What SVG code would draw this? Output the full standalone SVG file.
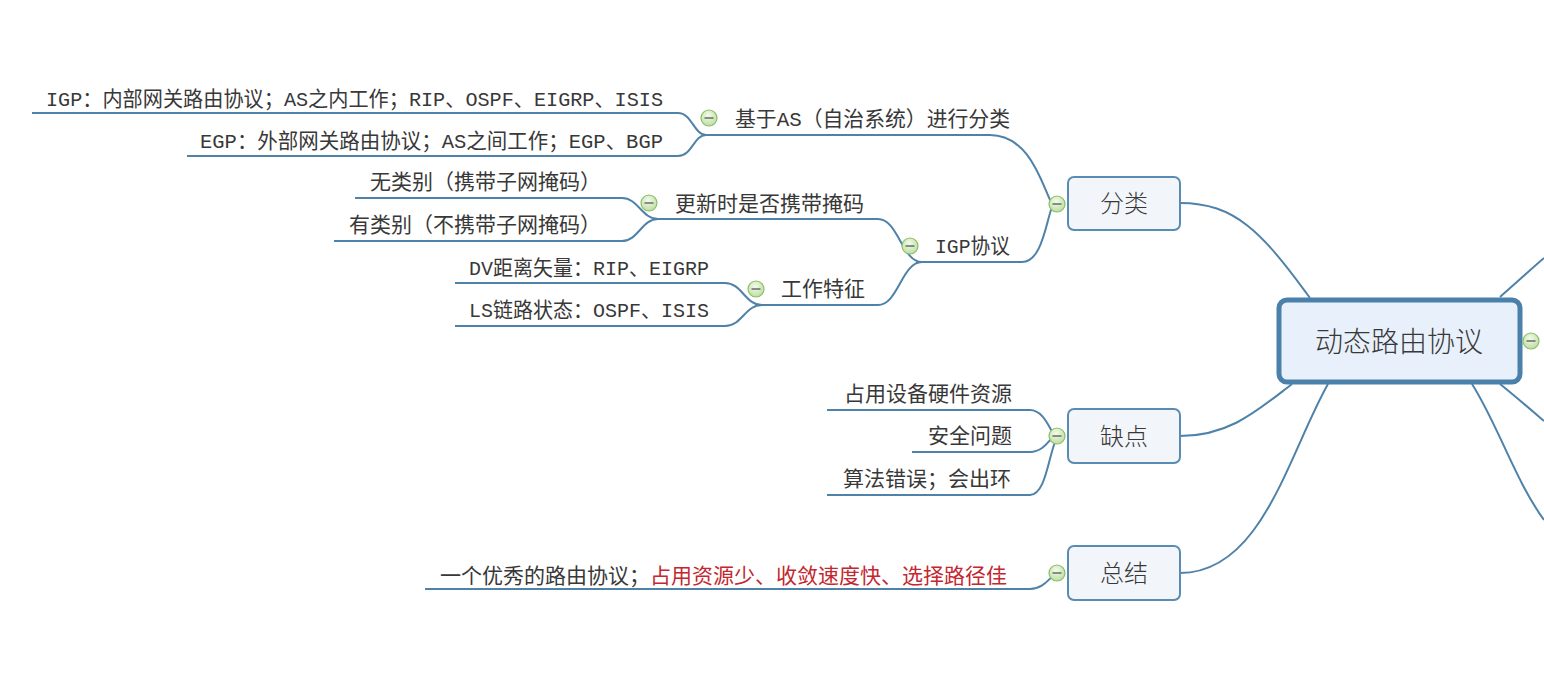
<svg xmlns="http://www.w3.org/2000/svg" width="1544" height="680" viewBox="0 0 1544 680">
<style>
.t{font-family:"Liberation Mono","Noto Sans CJK SC",monospace;font-size:21px;fill:#383838}
.red{fill:#c3272f}
.bt{font-family:"Noto Sans CJK SC",sans-serif;font-size:24px;fill:#383838;text-anchor:middle;font-weight:300}
.ct{font-family:"Noto Sans CJK SC",sans-serif;font-size:28px;fill:#383838;text-anchor:middle;font-weight:300}
.ln{fill:none;stroke:#4f82a9;stroke-width:2}
.box{fill:#f2f6fb;stroke:#5a8bb2;stroke-width:2}
.cbox{fill:#e8f1fb;stroke:#4a80aa;stroke-width:5}
.cc{fill:url(#g);stroke:#8dbd6c;stroke-width:1.2}
.cm{stroke:#555;stroke-width:1.3}
</style>
<defs>
<radialGradient id="g" cx="0.45" cy="0.35" r="0.7">
<stop offset="0" stop-color="#f3fbea"/>
<stop offset="1" stop-color="#b8dc9c"/>
</radialGradient>
<g id="col"><circle class="cc" r="8"/><line class="cm" x1="-4.5" y1="0" x2="4.5" y2="0"/></g>
</defs>
<rect width="1544" height="680" fill="#fff"/>
<g id="connectors">
<path class="ln" d="M1180,203 C1235,203 1262,232 1310,298"/>
<path class="ln" d="M1180,436 C1230,436 1258,410 1292,384"/>
<path class="ln" d="M1180,573 C1262,573 1288,455 1328,384"/>
<path class="ln" d="M1500,297 C1515,284 1530,270 1544,258"/>
<path class="ln" d="M1500,384 C1515,396 1530,409 1544,421"/>
<path class="ln" d="M1472,384 C1498,425 1515,480 1544,520"/>
<path class="ln" d="M702,135 H990 C1030,135 1042,185 1052,204"/>
<path class="ln" d="M916,262 H1022 C1042,262 1046,222 1052,207"/>
<path class="ln" d="M32,113 H678 C692,113 694,135 706,135"/>
<path class="ln" d="M187,156 H678 C692,156 694,135 706,135"/>
<path class="ln" d="M655,219 H878 C898,219 902,262 922,262"/>
<path class="ln" d="M760,305 H878 C898,305 902,262 922,262"/>
<path class="ln" d="M355,198 H622 C638,198 642,219 658,219"/>
<path class="ln" d="M334,241 H622 C638,241 642,219 658,219"/>
<path class="ln" d="M455,283 H725 C742,283 745,305 762,305"/>
<path class="ln" d="M455,326 H725 C742,326 745,305 762,305"/>
<path class="ln" d="M827,410 H1030 C1042,410 1048,425 1053,433"/>
<path class="ln" d="M912,452 H1030 C1042,452 1048,442 1052,438"/>
<path class="ln" d="M827,495 H1030 C1045,495 1048,460 1055,442"/>
<path class="ln" d="M425,589 H1030 C1042,589 1048,580 1053,576"/>
</g>
<g id="root">
<rect class="cbox" x="1279" y="300" width="241" height="82" rx="8"/>
<text class="ct" x="1399" y="352">动态路由协议</text>
<use href="#col" x="1531" y="341"/>
</g>
<g id="fenlei">
<rect class="box" x="1068" y="177" width="112" height="53" rx="6"/>
<text class="bt" x="1124" y="212">分类</text>
<use href="#col" x="1057" y="204"/>
</g>
<g id="quedian">
<rect class="box" x="1068" y="409" width="112" height="54" rx="6"/>
<text class="bt" x="1124" y="445">缺点</text>
<use href="#col" x="1057" y="436"/>
</g>
<g id="zongjie">
<rect class="box" x="1068" y="546" width="112" height="54" rx="6"/>
<text class="bt" x="1124" y="582">总结</text>
<use href="#col" x="1057" y="573"/>
</g>
<g id="as">
<text class="t" x="735" y="126" textLength="275" lengthAdjust="spacingAndGlyphs">基于AS（自治系统）进行分类</text>
<use href="#col" x="709" y="118"/>
</g>
<g id="igp-leaf"><text class="t" x="46" y="106" textLength="617" lengthAdjust="spacingAndGlyphs">IGP：内部网关路由协议；AS之内工作；RIP、OSPF、EIGRP、ISIS</text></g>
<g id="egp-leaf"><text class="t" x="200" y="148" textLength="463" lengthAdjust="spacingAndGlyphs">EGP：外部网关路由协议；AS之间工作；EGP、BGP</text></g>
<g id="igp">
<text class="t" x="935" y="253" textLength="75" lengthAdjust="spacingAndGlyphs">IGP协议</text>
<use href="#col" x="910" y="246"/>
</g>
<g id="update">
<text class="t" x="675" y="211">更新时是否携带掩码</text>
<use href="#col" x="649" y="203"/>
</g>
<g id="classless"><text class="t" x="370" y="189">无类别（携带子网掩码）</text></g>
<g id="classful"><text class="t" x="349" y="232">有类别（不携带子网掩码）</text></g>
<g id="feature">
<text class="t" x="781" y="296">工作特征</text>
<use href="#col" x="756" y="289"/>
</g>
<g id="dv"><text class="t" x="469" y="275" textLength="240" lengthAdjust="spacingAndGlyphs">DV距离矢量：RIP、EIGRP</text></g>
<g id="ls"><text class="t" x="469" y="317" textLength="240" lengthAdjust="spacingAndGlyphs">LS链路状态：OSPF、ISIS</text></g>
<g id="q1"><text class="t" x="844" y="401">占用设备硬件资源</text></g>
<g id="q2"><text class="t" x="928" y="443">安全问题</text></g>
<g id="q3"><text class="t" x="843" y="486">算法错误；会出环</text></g>
<g id="z1"><text class="t" x="440" y="583">一个优秀的路由协议；<tspan class="red">占用资源少、收敛速度快、选择路径佳</tspan></text></g>
</svg>
